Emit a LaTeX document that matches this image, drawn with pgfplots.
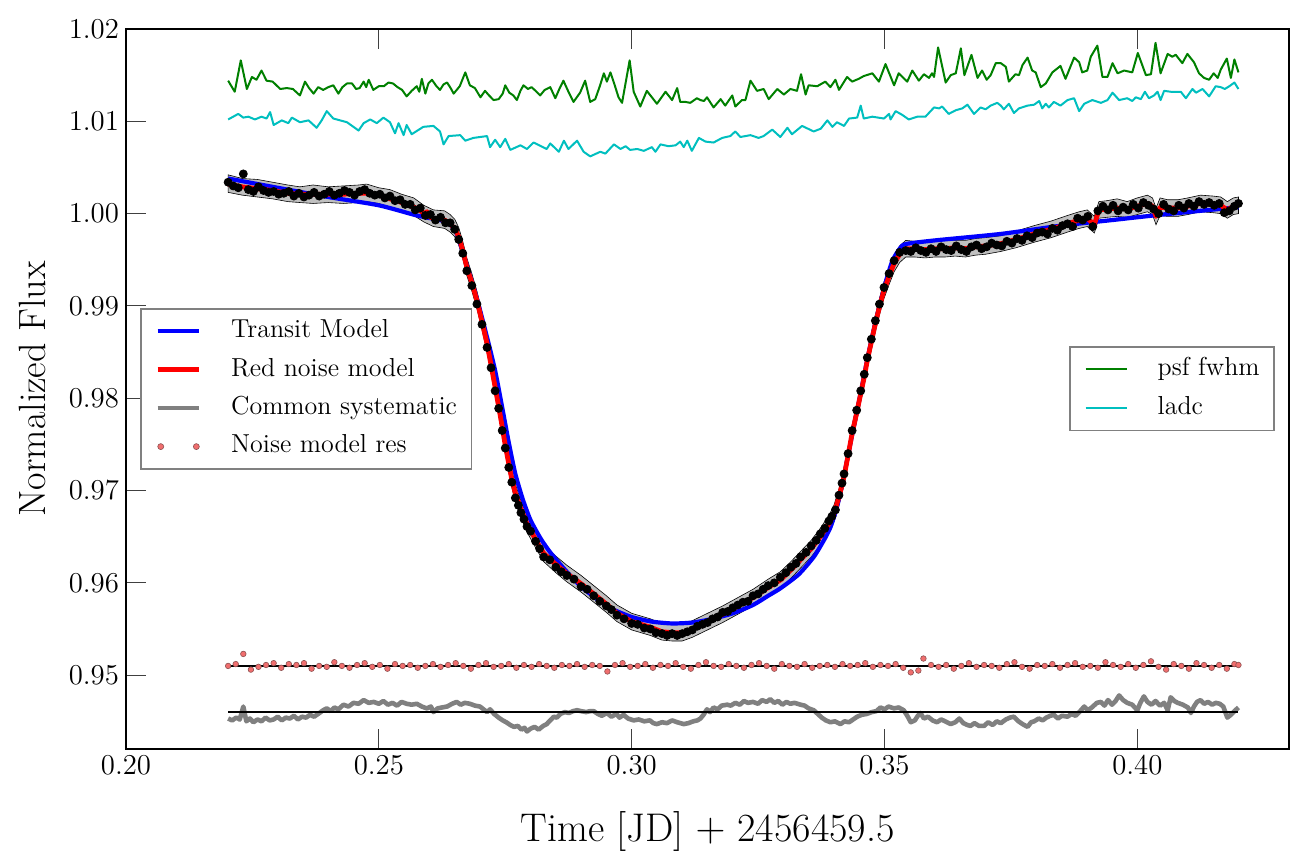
\documentclass[border=0pt]{standalone}
\usepackage{pgfplots}
\pgfplotsset{compat=1.18}
\definecolor{mplgreen}{rgb}{0,0.5,0}
\definecolor{mplcyan}{rgb}{0,0.75,0.75}
\definecolor{resfill}{RGB}{240,110,110}
\definecolor{resedge}{RGB}{140,80,80}
\definecolor{bandfill}{RGB}{192,192,192}
\definecolor{sysgray}{RGB}{128,128,128}
\begin{document}
\begin{tikzpicture}
\pgfplotsset{
  myaxis/.style={
    scale only axis, width=581.5pt, height=360pt,
    xmin=0.20, xmax=0.43, ymin=0.942, ymax=1.02,
    at={(0pt,0pt)}, anchor=south west, clip=false,
  },
  mylegend/.style={
    legend cell align=left,
    legend style={draw=gray, line width=0.8pt, fill=white,
      inner xsep=7.3pt, inner ysep=5.5pt, row sep=7.6pt,
      font=\fontsize{13}{15.6}\selectfont,
      nodes={inner sep=0pt, text height=9pt, text depth=2.6pt},
      /tikz/every odd column/.append style={column sep=14.7pt}},
    legend image code/.code={\draw[##1] (0pt,0pt) -- (20.8pt,0pt);},
  },
}
\begin{axis}[myaxis, mylegend,
  axis line style={line width=1.3pt},
  xtick={0.20,0.25,0.30,0.35,0.40},
  ytick={0.95,0.96,0.97,0.98,0.99,1.00,1.01,1.02},
  xtick pos=both, ytick pos=left, tick align=inside,
  major tick length=10pt,
  tick style={black!75, line width=0.5pt},
  x tick label style={/pgf/number format/.cd, fixed, fixed zerofill, precision=2},
  y tick label style={/pgf/number format/.cd, fixed, fixed zerofill, precision=2},
  tick label style={font=\fontsize{14.5}{17}\selectfont},
  xlabel style={font=\fontsize{20}{24}\selectfont},
  ylabel style={font=\fontsize{19}{23}\selectfont},
  xlabel={Time [JD] $+$ 2456459.5},
  ylabel={Normalized Flux},
  xlabel style={at={(axis description cs:0.5,-0.128)}, anchor=base},
  ylabel style={at={(axis description cs:-0.0688,0.5)}, anchor=base},
  legend style={at={(0.012,0.6125)}, anchor=north west},
]
% grey error band
\addplot[fill=bandfill, draw=black, line width=0.3pt, forget plot] coordinates {
(0.2202,1.0042)(0.2230,1.0038)(0.2260,1.0037)(0.2290,1.0034)(0.2320,1.0031)(0.2344,1.0029)
(0.2370,1.0031)(0.2400,1.0029)(0.2430,1.0030)(0.2460,1.0031)(0.2476,1.0032)(0.2500,1.0028)
(0.2522,1.0026)(0.2545,1.0021)(0.2569,1.0017)(0.2589,1.0009)(0.2608,1.0004)(0.2630,1.0003)
(0.2641,0.9999)(0.2650,0.9994)(0.2658,0.9985)(0.2666,0.9970)(0.2674,0.9952)(0.2684,0.9935)
(0.2694,0.9916)(0.2704,0.9893)(0.2714,0.9869)(0.2722,0.9846)(0.2730,0.9822)(0.2737,0.9801)
(0.2744,0.9779)(0.2750,0.9759)(0.2757,0.9739)(0.2763,0.9722)(0.2770,0.9707)(0.2781,0.9689)
(0.2793,0.9673)(0.2810,0.9656)(0.2826,0.9641)(0.2850,0.9629)(0.2872,0.9619)(0.2900,0.9608)
(0.2925,0.9597)(0.2950,0.9586)(0.2971,0.9576)(0.3000,0.9567)(0.3037,0.9561)(0.3060,0.9556)
(0.3080,0.9555)(0.3100,0.9555)(0.3120,0.9559)(0.3150,0.9567)(0.3180,0.9575)(0.3210,0.9584)
(0.3240,0.9593)(0.3270,0.9604)(0.3294,0.9612)(0.3315,0.9623)(0.3334,0.9634)(0.3355,0.9646)
(0.3373,0.9659)(0.3390,0.9673)(0.3400,0.9684)(0.3410,0.9702)(0.3420,0.9724)(0.3428,0.9747)
(0.3436,0.9771)(0.3445,0.9793)(0.3453,0.9814)(0.3460,0.9832)(0.3466,0.9850)(0.3474,0.9870)
(0.3482,0.9890)(0.3490,0.9908)(0.3499,0.9926)(0.3509,0.9941)(0.3519,0.9955)(0.3530,0.9965)
(0.3542,0.9971)(0.3560,0.9970)(0.3580,0.9971)(0.3600,0.9970)(0.3620,0.9972)(0.3640,0.9971)
(0.3660,0.9971)(0.3680,0.9973)(0.3700,0.9974)(0.3730,0.9976)(0.3760,0.9981)(0.3796,0.9987)
(0.3830,0.9992)(0.3862,0.9998)(0.3885,1.0002)(0.3901,1.0004)(0.3915,0.9997)(0.3924,1.0013)
(0.3940,1.0014)(0.3960,1.0016)(0.3980,1.0013)(0.4000,1.0017)(0.4020,1.0020)(0.4030,1.0017)
(0.4037,1.0006)(0.4045,1.0017)(0.4060,1.0015)(0.4080,1.0015)(0.4100,1.0017)(0.4125,1.0020)
(0.4150,1.0019)(0.4165,1.0018)(0.4178,1.0013)(0.4190,1.0017)(0.4200,1.0018)
(0.4200,1.0000)(0.4190,0.9999)(0.4178,0.9995)(0.4165,1.0000)(0.4150,1.0001)(0.4125,1.0002)
(0.4100,0.9999)(0.4080,0.9997)(0.4060,0.9997)(0.4045,0.9998)(0.4037,0.9988)(0.4030,0.9999)
(0.4020,1.0002)(0.4000,0.9999)(0.3980,0.9996)(0.3960,0.9997)(0.3940,0.9996)(0.3924,0.9995)
(0.3915,0.9979)(0.3901,0.9986)(0.3885,0.9984)(0.3862,0.9980)(0.3830,0.9974)(0.3796,0.9969)
(0.3760,0.9963)(0.3730,0.9959)(0.3700,0.9956)(0.3680,0.9955)(0.3660,0.9953)(0.3640,0.9954)
(0.3620,0.9953)(0.3600,0.9953)(0.3580,0.9952)(0.3560,0.9953)(0.3542,0.9953)(0.3530,0.9947)
(0.3519,0.9937)(0.3509,0.9923)(0.3499,0.9908)(0.3490,0.9890)(0.3482,0.9872)(0.3474,0.9852)
(0.3466,0.9832)(0.3460,0.9814)(0.3453,0.9796)(0.3445,0.9775)(0.3436,0.9753)(0.3428,0.9729)
(0.3420,0.9706)(0.3410,0.9684)(0.3400,0.9666)(0.3390,0.9655)(0.3373,0.9641)(0.3355,0.9628)
(0.3334,0.9616)(0.3315,0.9605)(0.3294,0.9594)(0.3270,0.9586)(0.3240,0.9575)(0.3210,0.9566)
(0.3180,0.9557)(0.3150,0.9549)(0.3120,0.9541)(0.3100,0.9537)(0.3080,0.9537)(0.3060,0.9538)
(0.3037,0.9543)(0.3000,0.9549)(0.2971,0.9558)(0.2950,0.9568)(0.2925,0.9579)(0.2900,0.9590)
(0.2872,0.9601)(0.2850,0.9611)(0.2826,0.9623)(0.2810,0.9638)(0.2793,0.9655)(0.2781,0.9671)
(0.2770,0.9688)(0.2763,0.9703)(0.2757,0.9720)(0.2750,0.9740)(0.2744,0.9760)(0.2737,0.9782)
(0.2730,0.9803)(0.2722,0.9827)(0.2714,0.9850)(0.2704,0.9874)(0.2694,0.9897)(0.2684,0.9916)
(0.2674,0.9933)(0.2666,0.9951)(0.2658,0.9966)(0.2650,0.9975)(0.2641,0.9980)(0.2630,0.9984)
(0.2608,0.9986)(0.2589,0.9991)(0.2569,0.9998)(0.2545,1.0003)(0.2522,1.0007)(0.2500,1.0011)
(0.2476,1.0013)(0.2460,1.0012)(0.2430,1.0011)(0.2400,1.0012)(0.2370,1.0011)(0.2344,1.0012)
(0.2320,1.0013)(0.2290,1.0016)(0.2260,1.0018)(0.2230,1.0020)(0.2202,1.0023)
} -- cycle;
% data points
\addplot[only marks, mark=*, mark size=2pt, black, forget plot] coordinates {
(0.2202,1.0034)(0.2212,1.0030)(0.2222,1.0028)(0.2232,1.0043)(0.2242,1.0026)(0.2252,1.0024)
(0.2262,1.0029)(0.2272,1.0025)(0.2282,1.0023)(0.2292,1.0024)(0.2302,1.0021)(0.2312,1.0022)
(0.2322,1.0024)(0.2332,1.0019)(0.2342,1.0022)(0.2352,1.0018)(0.2362,1.0020)(0.2372,1.0023)
(0.2382,1.0019)(0.2392,1.0021)(0.2402,1.0024)(0.2412,1.0020)(0.2422,1.0022)(0.2432,1.0025)
(0.2442,1.0023)(0.2452,1.0020)(0.2462,1.0024)(0.2472,1.0026)(0.2482,1.0022)(0.2492,1.0020)
(0.2502,1.0021)(0.2512,1.0017)(0.2522,1.0019)(0.2532,1.0014)(0.2542,1.0015)(0.2552,1.0010)
(0.2562,1.0010)(0.2572,1.0004)(0.2582,1.0006)(0.2592,0.9998)(0.2602,0.9999)(0.2612,0.9993)
(0.2622,0.9996)(0.2632,0.9990)(0.2641,0.9990)(0.2650,0.9983)(0.2658,0.9972)(0.2666,0.9957)
(0.2674,0.9938)(0.2684,0.9922)(0.2694,0.9902)(0.2704,0.9880)(0.2714,0.9855)(0.2722,0.9833)
(0.2730,0.9808)(0.2737,0.9789)(0.2744,0.9765)(0.2750,0.9746)(0.2757,0.9725)(0.2763,0.9709)
(0.2770,0.9692)(0.2776,0.9684)(0.2781,0.9676)(0.2787,0.9669)(0.2793,0.9661)(0.2800,0.9656)
(0.2810,0.9645)(0.2818,0.9637)(0.2826,0.9628)(0.2838,0.9625)(0.2850,0.9617)(0.2861,0.9612)
(0.2872,0.9608)(0.2886,0.9604)(0.2900,0.9596)(0.2912,0.9593)(0.2925,0.9586)(0.2937,0.9580)
(0.2950,0.9575)(0.2960,0.9571)(0.2971,0.9565)(0.2985,0.9561)(0.3000,0.9556)(0.3012,0.9555)
(0.3025,0.9551)(0.3037,0.9550)(0.3048,0.9546)(0.3060,0.9545)(0.3070,0.9543)(0.3080,0.9545)
(0.3090,0.9543)(0.3100,0.9545)(0.3110,0.9547)(0.3120,0.9549)(0.3130,0.9553)(0.3140,0.9555)
(0.3150,0.9557)(0.3160,0.9561)(0.3170,0.9563)(0.3180,0.9568)(0.3190,0.9569)(0.3200,0.9573)
(0.3210,0.9576)(0.3220,0.9579)(0.3230,0.9580)(0.3240,0.9586)(0.3250,0.9588)(0.3260,0.9593)
(0.3270,0.9597)(0.3282,0.9600)(0.3294,0.9606)(0.3305,0.9611)(0.3315,0.9617)(0.3325,0.9621)
(0.3334,0.9628)(0.3345,0.9633)(0.3355,0.9640)(0.3365,0.9646)(0.3373,0.9653)(0.3382,0.9659)
(0.3390,0.9667)(0.3396,0.9672)(0.3403,0.9679)(0.3410,0.9695)(0.3416,0.9708)(0.3420,0.9718)
(0.3428,0.9740)(0.3436,0.9765)(0.3445,0.9787)(0.3453,0.9808)(0.3460,0.9826)(0.3466,0.9844)
(0.3474,0.9864)(0.3482,0.9884)(0.3490,0.9902)(0.3499,0.9920)(0.3509,0.9935)(0.3519,0.9949)
(0.3530,0.9958)(0.3542,0.9960)(0.3552,0.9959)(0.3562,0.9963)(0.3572,0.9960)(0.3582,0.9958)
(0.3592,0.9962)(0.3602,0.9959)(0.3612,0.9964)(0.3622,0.9961)(0.3632,0.9960)(0.3642,0.9965)
(0.3652,0.9961)(0.3662,0.9959)(0.3672,0.9964)(0.3682,0.9966)(0.3692,0.9962)(0.3702,0.9964)
(0.3712,0.9968)(0.3722,0.9966)(0.3732,0.9965)(0.3742,0.9970)(0.3752,0.9968)(0.3762,0.9973)
(0.3772,0.9971)(0.3782,0.9976)(0.3792,0.9974)(0.3802,0.9979)(0.3812,0.9980)(0.3822,0.9978)
(0.3832,0.9984)(0.3842,0.9982)(0.3852,0.9987)(0.3862,0.9989)(0.3872,0.9986)(0.3882,0.9995)
(0.3892,0.9993)(0.3902,0.9997)(0.3912,0.9986)(0.3922,1.0003)(0.3932,1.0008)(0.3942,1.0004)
(0.3952,1.0009)(0.3962,1.0003)(0.3972,1.0007)(0.3982,1.0004)(0.3992,1.0010)(0.4002,1.0006)
(0.4012,1.0012)(0.4022,1.0009)(0.4032,1.0005)(0.4042,1.0000)(0.4052,1.0010)(0.4062,1.0005)
(0.4072,1.0003)(0.4082,1.0009)(0.4092,1.0006)(0.4102,1.0011)(0.4112,1.0008)(0.4122,1.0013)
(0.4132,1.0010)(0.4142,1.0012)(0.4152,1.0009)(0.4162,1.0011)(0.4172,1.0001)(0.4182,1.0003)
(0.4192,1.0008)(0.4200,1.0011)
};
% transit model
\addplot[blue, line width=2.1pt, smooth, tension=0.4] coordinates {
(0.2202,1.0038)(0.2300,1.0028)(0.2400,1.0018)(0.2500,1.0009)(0.2575,0.9998)(0.2628,0.9992)
(0.2645,0.9986)(0.2654,0.9978)(0.2664,0.9962)(0.2674,0.9944)(0.2694,0.9908)(0.2714,0.9866)
(0.2730,0.9830)(0.2744,0.9790)(0.2757,0.9752)(0.2770,0.9718)(0.2785,0.9690)(0.2800,0.9668)
(0.2820,0.9648)(0.2839,0.9633)(0.2870,0.9613)(0.2900,0.9596)(0.2930,0.9583)(0.2960,0.9572)
(0.3000,0.9563)(0.3040,0.9558)(0.3080,0.9556)(0.3120,0.9557)(0.3160,0.9561)(0.3200,0.9567)
(0.3240,0.9576)(0.3270,0.9586)(0.3294,0.9594)(0.3330,0.9609)(0.3360,0.9628)(0.3380,0.9646)
(0.3393,0.9660)(0.3405,0.9680)(0.3415,0.9703)(0.3425,0.9730)(0.3436,0.9760)(0.3453,0.9806)
(0.3466,0.9842)(0.3482,0.9882)(0.3499,0.9919)(0.3515,0.9948)(0.3530,0.9962)(0.3542,0.9967)
(0.3600,0.9971)(0.3730,0.9978)(0.3850,0.9987)(0.3950,0.9993)(0.4050,0.9999)(0.4200,1.0007)
};
\addlegendentry{Transit Model}
% red noise model
\addplot[red, line width=2.4pt, line join=round] coordinates {
(0.2202,1.0032)(0.2230,1.0029)(0.2260,1.0027)(0.2290,1.0025)(0.2320,1.0022)(0.2344,1.0021)
(0.2370,1.0021)(0.2400,1.0021)(0.2430,1.0021)(0.2460,1.0022)(0.2476,1.0022)(0.2500,1.0020)
(0.2522,1.0016)(0.2545,1.0012)(0.2569,1.0007)(0.2580,1.0004)(0.2589,1.0000)(0.2595,1.0002)
(0.2602,0.9996)(0.2608,0.99946)(0.2620,0.9995)(0.2630,0.9993)(0.2641,0.9989)(0.2650,0.9984)
(0.2658,0.9975)(0.2666,0.9960)(0.2674,0.9942)(0.2684,0.9925)(0.2694,0.9906)(0.2704,0.9883)
(0.2714,0.9859)(0.2722,0.9836)(0.2730,0.9812)(0.2737,0.9791)(0.2744,0.9769)(0.2750,0.9749)
(0.2757,0.9729)(0.2763,0.9712)(0.2770,0.9697)(0.2781,0.9680)(0.2793,0.9664)(0.2810,0.9647)
(0.2826,0.9632)(0.2850,0.9620)(0.2872,0.9610)(0.2900,0.9599)(0.2925,0.9588)(0.2950,0.9577)
(0.2971,0.9567)(0.3000,0.9558)(0.3037,0.9552)(0.3060,0.9547)(0.3080,0.9546)(0.3100,0.9546)
(0.3120,0.9550)(0.3150,0.9558)(0.3180,0.9566)(0.3210,0.9575)(0.3240,0.9584)(0.3270,0.9595)
(0.3294,0.9603)(0.3315,0.9614)(0.3334,0.9625)(0.3355,0.9637)(0.3373,0.9650)(0.3390,0.9664)
(0.3400,0.9675)(0.3410,0.9693)(0.3420,0.9715)(0.3428,0.9738)(0.3436,0.9762)(0.3445,0.9784)
(0.3453,0.9805)(0.3460,0.9823)(0.3466,0.9841)(0.3474,0.9861)(0.3482,0.9881)(0.3490,0.9899)
(0.3499,0.9917)(0.3509,0.9932)(0.3519,0.9946)(0.3530,0.9956)(0.3542,0.9962)(0.3560,0.9962)
(0.3580,0.9961)(0.3600,0.9962)(0.3620,0.9962)(0.3640,0.9963)(0.3660,0.9962)(0.3680,0.9964)
(0.3700,0.9965)(0.3730,0.99675)(0.3760,0.9972)(0.3796,0.9978)(0.3830,0.9983)(0.3862,0.9989)
(0.3885,0.9993)(0.3901,0.9995)(0.3915,0.9988)(0.3924,1.0004)(0.3940,1.0005)(0.3960,1.0006)
(0.3980,1.0005)(0.4000,1.0008)(0.4020,1.0011)(0.4030,1.0008)(0.4037,0.9997)(0.4045,1.0007)
(0.4060,1.0006)(0.4080,1.0006)(0.4100,1.0008)(0.4125,1.0011)(0.4150,1.0010)(0.4165,1.0009)
(0.4178,1.0004)(0.4190,1.0008)(0.4200,1.0009)
};
\addlegendentry{Red noise model}
% common systematic
\addplot[sysgray, line width=2.3pt, line join=round] coordinates {
(0.2202,0.9453)(0.2210,0.9451)(0.2218,0.9454)(0.2225,0.9452)(0.2232,0.9466)(0.2238,0.9450)
(0.2245,0.9453)(0.2252,0.9449)(0.2260,0.9452)(0.2268,0.9450)(0.2276,0.9454)(0.2284,0.9451)
(0.2292,0.9452)(0.2300,0.9455)(0.2308,0.9451)(0.2316,0.9454)(0.2324,0.9453)(0.2332,0.9456)
(0.2340,0.9452)(0.2348,0.9455)(0.2356,0.9454)(0.2364,0.9457)(0.2372,0.9455)(0.2380,0.9458)
(0.2390,0.9462)(0.2397,0.9464)(0.2405,0.9461)(0.2412,0.9465)(0.2420,0.9463)(0.2430,0.9468)
(0.2440,0.9466)(0.2450,0.9470)(0.2460,0.9469)(0.2470,0.9473)(0.2480,0.9470)(0.2490,0.9471)
(0.2500,0.9469)(0.2509,0.9472)(0.2518,0.9468)(0.2527,0.9470)(0.2536,0.9467)(0.2545,0.9471)
(0.2555,0.9469)(0.2565,0.9468)(0.2575,0.9469)(0.2585,0.9466)(0.2595,0.9464)(0.2603,0.9466)
(0.2608,0.9460)(0.2616,0.9464)(0.2625,0.9465)(0.2635,0.9466)(0.2645,0.9469)(0.2654,0.9471)
(0.2662,0.9468)(0.2670,0.9470)(0.2680,0.9469)(0.2690,0.9467)(0.2700,0.9466)(0.2707,0.9463)
(0.2714,0.9460)(0.2720,0.9463)(0.2728,0.9458)(0.2737,0.9454)(0.2745,0.9451)(0.2752,0.9449)
(0.2760,0.9446)(0.2767,0.9444)(0.2775,0.9445)(0.2782,0.9441)(0.2788,0.9443)(0.2793,0.9439)
(0.2800,0.9442)(0.2808,0.9444)(0.2816,0.9441)(0.2825,0.9445)(0.2832,0.9447)(0.2839,0.9451)
(0.2846,0.9455)(0.2852,0.9454)(0.2859,0.9458)(0.2868,0.9460)(0.2876,0.9459)(0.2884,0.9461)
(0.2892,0.9462)(0.2900,0.9461)(0.2910,0.9460)(0.2918,0.9461)(0.2925,0.9461)(0.2933,0.9458)
(0.2941,0.9456)(0.2951,0.9459)(0.2960,0.9455)(0.2970,0.9458)(0.2976,0.9454)(0.2984,0.9457)
(0.2993,0.9453)(0.3004,0.9451)(0.3014,0.9452)(0.3025,0.9450)(0.3036,0.9451)(0.3043,0.9448)
(0.3050,0.9447)(0.3060,0.9449)(0.3070,0.9448)(0.3080,0.9451)(0.3090,0.9449)(0.3103,0.9447)
(0.3112,0.9448)(0.3122,0.9450)(0.3130,0.9451)(0.3136,0.9453)(0.3142,0.9457)(0.3149,0.9463)
(0.3155,0.9460)(0.3162,0.9465)(0.3170,0.9463)(0.3178,0.9467)(0.3189,0.9468)(0.3196,0.9467)
(0.3205,0.9470)(0.3214,0.9468)(0.3222,0.9472)(0.3230,0.9470)(0.3240,0.9471)(0.3250,0.9469)
(0.3258,0.9473)(0.3267,0.9471)(0.3274,0.9474)(0.3282,0.9470)(0.3290,0.9472)(0.3298,0.9468)
(0.3306,0.9471)(0.3314,0.9469)(0.3322,0.9470)(0.3334,0.9468)(0.3342,0.9467)(0.3350,0.9464)
(0.3360,0.9462)(0.3368,0.9458)(0.3376,0.9454)(0.3384,0.9451)(0.3393,0.9449)(0.3402,0.9450)
(0.3413,0.9447)(0.3421,0.9450)(0.3430,0.9449)(0.3438,0.9452)(0.3446,0.9455)(0.3455,0.9457)
(0.3465,0.9458)(0.3475,0.9460)(0.3484,0.9461)(0.3492,0.9465)(0.3500,0.9463)(0.3508,0.9466)
(0.3519,0.9464)(0.3528,0.9465)(0.3538,0.9462)(0.3545,0.9456)(0.3552,0.9449)(0.3560,0.9451)
(0.3566,0.9456)(0.3571,0.9459)(0.3578,0.9453)(0.3586,0.9455)(0.3595,0.9451)(0.3604,0.9449)
(0.3612,0.9452)(0.3620,0.9450)(0.3631,0.9447)(0.3640,0.9449)(0.3648,0.9453)(0.3656,0.9448)
(0.3664,0.9446)(0.3670,0.9445)(0.3678,0.9448)(0.3687,0.9445)(0.3697,0.9445)(0.3705,0.9449)
(0.3714,0.9446)(0.3722,0.9450)(0.3730,0.9448)(0.3740,0.9452)(0.3748,0.9454)(0.3756,0.9455)
(0.3765,0.9450)(0.3773,0.9447)(0.3783,0.9444)(0.3790,0.9449)(0.3796,0.9450)(0.3805,0.9453)
(0.3813,0.9451)(0.3820,0.9454)(0.3828,0.9456)(0.3835,0.9457)(0.3843,0.9453)(0.3851,0.9456)
(0.3862,0.9455)(0.3870,0.9458)(0.3878,0.9456)(0.3887,0.9461)(0.3895,0.9466)(0.3902,0.9462)
(0.3910,0.9465)(0.3920,0.9470)(0.3928,0.9471)(0.3935,0.9467)(0.3942,0.9473)(0.3950,0.9468)
(0.3957,0.9472)(0.3964,0.9478)(0.3972,0.9473)(0.3980,0.9470)(0.3990,0.9468)(0.4000,0.9462)
(0.4006,0.9470)(0.4013,0.9477)(0.4020,0.9471)(0.4028,0.9468)(0.4036,0.9472)(0.4045,0.9467)
(0.4053,0.9470)(0.4060,0.9462)(0.4066,0.9476)(0.4073,0.9472)(0.4080,0.9470)(0.4090,0.9468)
(0.4100,0.9465)(0.4106,0.9459)(0.4112,0.9466)(0.4118,0.9471)(0.4125,0.9473)(0.4132,0.9469)
(0.4140,0.9471)(0.4148,0.9468)(0.4155,0.9470)(0.4163,0.9469)(0.4170,0.9466)(0.4178,0.9454)
(0.4185,0.9457)(0.4192,0.9461)(0.4200,0.9465)
};
\addlegendentry{Common systematic}
% residuals
\addplot[only marks, mark=*, mark size=1.4pt, mark options={fill=resfill, draw=resedge, line width=0.3pt},
  legend image code/.code={\draw[draw=resedge, fill=resfill, line width=0.3pt] (1.5pt,0pt) circle (1.5pt) (19.3pt,0pt) circle (1.5pt);}]
coordinates {
(0.2202,0.9510)(0.2217,0.9512)(0.2232,0.9523)(0.2247,0.9506)(0.2262,0.9509)(0.2277,0.9511)
(0.2292,0.9513)(0.2307,0.9508)(0.2322,0.9512)(0.2337,0.9511)(0.2352,0.9513)(0.2367,0.9507)
(0.2382,0.9510)(0.2397,0.9509)(0.2412,0.9514)(0.2427,0.9510)(0.2442,0.9508)(0.2457,0.9511)
(0.2472,0.9513)(0.2487,0.9509)(0.2502,0.9511)(0.2517,0.9507)(0.2532,0.9512)(0.2547,0.9510)
(0.2562,0.9511)(0.2577,0.9508)(0.2592,0.9510)(0.2607,0.9512)(0.2622,0.9509)(0.2637,0.9511)
(0.2652,0.9513)(0.2667,0.9510)(0.2682,0.9507)(0.2697,0.9511)(0.2712,0.9513)(0.2727,0.9509)
(0.2742,0.9510)(0.2757,0.9512)(0.2772,0.9508)(0.2787,0.9511)(0.2802,0.9509)(0.2817,0.9512)
(0.2832,0.9510)(0.2847,0.9508)(0.2862,0.9511)(0.2877,0.9510)(0.2892,0.9512)(0.2907,0.9509)
(0.2922,0.9511)(0.2937,0.9510)(0.2952,0.9504)(0.2967,0.9511)(0.2982,0.9513)(0.2997,0.9509)
(0.3012,0.9510)(0.3027,0.9512)(0.3042,0.9508)(0.3057,0.9511)(0.3072,0.9510)(0.3087,0.9513)
(0.3102,0.9509)(0.3117,0.9507)(0.3132,0.9511)(0.3147,0.9514)(0.3162,0.9510)(0.3177,0.9509)
(0.3192,0.9512)(0.3207,0.9510)(0.3222,0.9508)(0.3237,0.9511)(0.3252,0.9513)(0.3267,0.9510)
(0.3282,0.9507)(0.3297,0.9512)(0.3312,0.9510)(0.3327,0.9509)(0.3342,0.9512)(0.3357,0.9508)
(0.3372,0.9510)(0.3387,0.9511)(0.3402,0.9509)(0.3417,0.9512)(0.3432,0.9510)(0.3447,0.9511)
(0.3462,0.9513)(0.3477,0.9509)(0.3492,0.9511)(0.3507,0.9510)(0.3522,0.9512)(0.3537,0.9508)
(0.3552,0.9503)(0.3567,0.9505)(0.3577,0.9518)(0.3592,0.9511)(0.3607,0.9509)(0.3622,0.9511)
(0.3637,0.9507)(0.3652,0.9510)(0.3667,0.9513)(0.3682,0.9509)(0.3697,0.9511)(0.3712,0.9510)
(0.3727,0.9508)(0.3742,0.9512)(0.3757,0.9514)(0.3772,0.9509)(0.3787,0.9507)(0.3802,0.9511)
(0.3817,0.9510)(0.3832,0.9512)(0.3847,0.9508)(0.3862,0.9511)(0.3877,0.9513)(0.3892,0.9509)
(0.3907,0.9510)(0.3922,0.9508)(0.3937,0.9514)(0.3952,0.9511)(0.3967,0.9509)(0.3982,0.9512)
(0.3997,0.9508)(0.4012,0.9511)(0.4027,0.9515)(0.4042,0.9509)(0.4057,0.9506)(0.4072,0.9512)
(0.4087,0.9510)(0.4102,0.9507)(0.4117,0.9513)(0.4132,0.9511)(0.4147,0.9508)(0.4162,0.9511)
(0.4177,0.9507)(0.4192,0.9512)(0.4200,0.9511)
};
\addlegendentry{Noise model res}
% baselines
\addplot[black, line width=0.7pt, forget plot] coordinates {(0.2202,0.9510)(0.4200,0.9510)};
\addplot[black, line width=0.7pt, forget plot] coordinates {(0.2202,0.9460)(0.4200,0.9460)};
\end{axis}
\begin{axis}[myaxis, mylegend, hide axis,
  legend style={at={(0.988,0.5597)}, anchor=north east}]
\addplot[mplgreen, line width=1pt, line join=round] coordinates {
(0.2202,1.0144)(0.2215,1.0132)(0.2227,1.0166)(0.2239,1.0135)(0.2249,1.0148)(0.2258,1.0145)
(0.2268,1.0155)(0.2278,1.0144)(0.2290,1.0143)(0.2305,1.0135)(0.2318,1.0136)(0.2330,1.0135)
(0.2344,1.0128)(0.2354,1.0143)(0.2362,1.0136)(0.2371,1.0130)(0.2380,1.0137)(0.2390,1.0134)
(0.2400,1.0137)(0.2410,1.0139)(0.2420,1.0130)(0.2428,1.0137)(0.2437,1.0141)(0.2447,1.0141)
(0.2455,1.0135)(0.2462,1.0136)(0.2470,1.0143)(0.2475,1.0137)(0.2480,1.0145)(0.2489,1.0134)
(0.2500,1.0138)(0.2510,1.0138)(0.2519,1.0142)(0.2528,1.0141)(0.2537,1.0137)(0.2546,1.0134)
(0.2555,1.0127)(0.2565,1.0133)(0.2575,1.0138)(0.2580,1.0132)(0.2585,1.0146)(0.2592,1.0130)
(0.2598,1.0141)(0.2605,1.0145)(0.2614,1.0138)(0.2621,1.0134)(0.2628,1.0140)(0.2635,1.0142)
(0.2642,1.0136)(0.2648,1.0130)(0.2660,1.0138)(0.2671,1.0153)(0.2680,1.0139)(0.2690,1.0136)
(0.2701,1.0126)(0.2710,1.0133)(0.2718,1.0128)(0.2727,1.0123)(0.2737,1.0124)(0.2745,1.0130)
(0.2750,1.0139)(0.2758,1.0131)(0.2766,1.0128)(0.2773,1.0123)(0.2780,1.0133)(0.2786,1.0139)
(0.2795,1.0135)(0.2802,1.0137)(0.2810,1.0133)(0.2819,1.0128)(0.2828,1.0134)(0.2839,1.0137)
(0.2849,1.0125)(0.2857,1.0135)(0.2865,1.0144)(0.2875,1.0132)(0.2885,1.0121)(0.2898,1.0131)
(0.2908,1.0144)(0.2918,1.0121)(0.2928,1.0124)(0.2937,1.0138)(0.2945,1.0152)(0.2951,1.0143)
(0.2958,1.0153)(0.2966,1.0140)(0.2974,1.0126)(0.2981,1.0120)(0.2996,1.0166)(0.3004,1.0132)
(0.3017,1.0116)(0.3030,1.0133)(0.3050,1.0119)(0.3067,1.0132)(0.3080,1.0123)(0.3090,1.0136)
(0.3096,1.0121)(0.3106,1.0121)(0.3116,1.0120)(0.3129,1.0125)(0.3136,1.0123)(0.3143,1.0122)
(0.3149,1.0126)(0.3162,1.0115)(0.3176,1.0124)(0.3185,1.0117)(0.3199,1.0128)(0.3205,1.0116)
(0.3218,1.0123)(0.3225,1.0123)(0.3235,1.0144)(0.3248,1.0133)(0.3261,1.0135)(0.3271,1.0124)
(0.3288,1.0135)(0.3301,1.0129)(0.3314,1.0135)(0.3327,1.0133)(0.3335,1.0151)(0.3344,1.0129)
(0.3350,1.0139)(0.3367,1.0138)(0.3383,1.0143)(0.3393,1.0137)(0.3403,1.0145)(0.3410,1.0134)
(0.3426,1.0148)(0.3436,1.0143)(0.3449,1.0146)(0.3459,1.0149)(0.3476,1.0152)(0.3489,1.0143)
(0.3502,1.0162)(0.3519,1.0139)(0.3528,1.0152)(0.3545,1.0143)(0.3555,1.0155)(0.3568,1.0144)
(0.3578,1.0151)(0.3588,1.0147)(0.3594,1.0152)(0.3598,1.0148)(0.3606,1.0180)(0.3621,1.0142)
(0.3631,1.0150)(0.3641,1.0152)(0.3651,1.0179)(0.3658,1.0150)(0.3672,1.0172)(0.3684,1.0147)
(0.3693,1.0155)(0.3702,1.0145)(0.3710,1.0150)(0.3720,1.0163)(0.3730,1.0163)(0.3740,1.0159)
(0.3746,1.0143)(0.3759,1.0151)(0.3766,1.0150)(0.3773,1.0161)(0.3783,1.0169)(0.3792,1.0155)
(0.3799,1.0153)(0.3809,1.0137)(0.3819,1.0141)(0.3832,1.0153)(0.3848,1.0160)(0.3858,1.0146)
(0.3875,1.0169)(0.3885,1.0164)(0.3891,1.0153)(0.3901,1.0155)(0.3908,1.0170)(0.3921,1.0182)
(0.3931,1.0148)(0.3941,1.0148)(0.3951,1.0163)(0.3961,1.0152)(0.3974,1.0155)(0.3990,1.0153)
(0.4001,1.0174)(0.4017,1.0150)(0.4027,1.0151)(0.4036,1.0185)(0.4046,1.0152)(0.4060,1.0173)
(0.4069,1.0170)(0.4076,1.0172)(0.4089,1.0163)(0.4099,1.0173)(0.4112,1.0164)(0.4122,1.0152)
(0.4132,1.0147)(0.4142,1.0145)(0.4151,1.0152)(0.4159,1.0147)(0.4165,1.0156)(0.4177,1.0168)
(0.4185,1.0147)(0.4192,1.0167)(0.4200,1.0153)
};
\addlegendentry{psf fwhm}
\addplot[mplcyan, line width=1pt, line join=round] coordinates {
(0.2202,1.0102)(0.2212,1.0105)(0.2222,1.0108)(0.2232,1.0104)(0.2242,1.0105)(0.2255,1.0102)
(0.2268,1.0105)(0.2278,1.0103)(0.2285,1.0110)(0.2292,1.0096)(0.2308,1.0101)(0.2321,1.0098)
(0.2328,1.0104)(0.2344,1.0099)(0.2361,1.0101)(0.2377,1.0093)(0.2387,1.0101)(0.2397,1.0111)
(0.2410,1.0103)(0.2437,1.0099)(0.2460,1.0090)(0.2470,1.0098)(0.2483,1.0102)(0.2496,1.0098)
(0.2509,1.0104)(0.2522,1.0099)(0.2532,1.0087)(0.2539,1.0098)(0.2549,1.0085)(0.2555,1.0096)
(0.2565,1.0086)(0.2588,1.0094)(0.2608,1.0095)(0.2621,1.0089)(0.2628,1.0075)(0.2638,1.0084)
(0.2661,1.0085)(0.2671,1.0079)(0.2687,1.0082)(0.2714,1.0084)(0.2720,1.0072)(0.2730,1.0080)
(0.2740,1.0072)(0.2750,1.0081)(0.2760,1.0069)(0.2780,1.0074)(0.2793,1.0070)(0.2806,1.0077)
(0.2832,1.0070)(0.2839,1.0076)(0.2856,1.0067)(0.2866,1.0079)(0.2875,1.0070)(0.2892,1.0079)
(0.2905,1.0067)(0.2918,1.0062)(0.2938,1.0067)(0.2948,1.0065)(0.2965,1.0075)(0.2978,1.0070)
(0.2988,1.0073)(0.2997,1.0069)(0.3011,1.0070)(0.3024,1.0068)(0.3040,1.0072)(0.3047,1.0067)
(0.3057,1.0075)(0.3073,1.0073)(0.3087,1.0074)(0.3096,1.0078)(0.3103,1.0072)(0.3110,1.0079)
(0.3119,1.0068)(0.3133,1.0082)(0.3146,1.0078)(0.3162,1.0077)(0.3179,1.0082)(0.3195,1.0084)
(0.3205,1.0089)(0.3215,1.0083)(0.3235,1.0085)(0.3251,1.0082)(0.3261,1.0084)(0.3278,1.0091)
(0.3294,1.0083)(0.3308,1.0093)(0.3317,1.0086)(0.3337,1.0095)(0.3360,1.0089)(0.3374,1.0092)
(0.3387,1.0101)(0.3397,1.0094)(0.3406,1.0099)(0.3420,1.0095)(0.3430,1.0103)(0.3446,1.0104)
(0.3453,1.0117)(0.3459,1.0103)(0.3476,1.0105)(0.3499,1.0103)(0.3509,1.0108)(0.3512,1.0102)
(0.3522,1.0111)(0.3535,1.0107)(0.3548,1.0102)(0.3565,1.0105)(0.3581,1.0105)(0.3598,1.0115)
(0.3608,1.0114)(0.3614,1.0116)(0.3627,1.0108)(0.3641,1.0112)(0.3654,1.0114)(0.3664,1.0118)
(0.3677,1.0108)(0.3690,1.0115)(0.3700,1.0113)(0.3710,1.0117)(0.3723,1.0120)(0.3730,1.0117)
(0.3736,1.0113)(0.3746,1.0119)(0.3756,1.0109)(0.3766,1.0114)(0.3783,1.0117)(0.3796,1.0118)
(0.3806,1.0122)(0.3812,1.0114)(0.3819,1.0119)(0.3825,1.0115)(0.3835,1.0121)(0.3848,1.0117)
(0.3862,1.0123)(0.3875,1.0125)(0.3885,1.0111)(0.3895,1.0119)(0.3911,1.0123)(0.3928,1.0120)
(0.3941,1.0123)(0.3951,1.0131)(0.3964,1.0123)(0.3980,1.0125)(0.3990,1.0122)(0.3997,1.0126)
(0.4007,1.0124)(0.4015,1.0132)(0.4023,1.0125)(0.4033,1.0128)(0.4040,1.0132)(0.4046,1.0123)
(0.4053,1.0133)(0.4066,1.0132)(0.4086,1.0132)(0.4096,1.0125)(0.4109,1.0135)(0.4116,1.0131)
(0.4129,1.0135)(0.4142,1.0127)(0.4155,1.0138)(0.4165,1.0137)(0.4173,1.0135)(0.4182,1.0138)
(0.4192,1.0142)(0.4200,1.0135)
};
\addlegendentry{ladc}
\end{axis}
\path (-63pt,-52.5pt) rectangle (589.5pt,374.5pt);
\end{tikzpicture}
\end{document}
